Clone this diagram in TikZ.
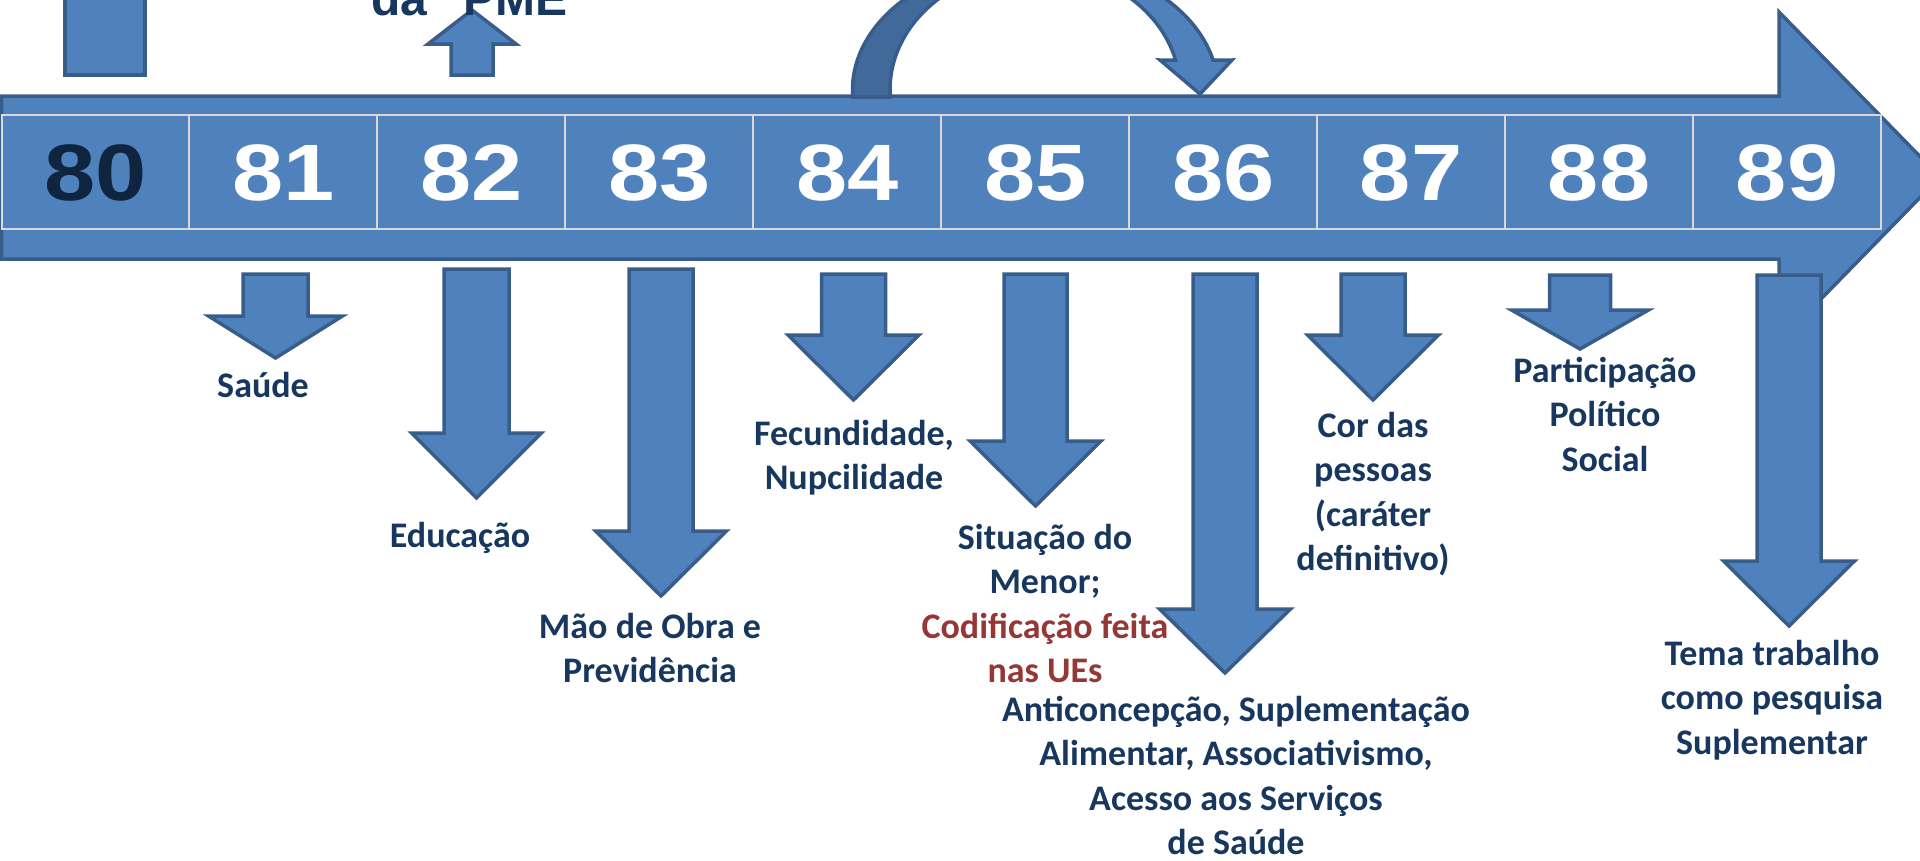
\documentclass[tikz,border=0pt]{standalone}
\usepackage{fontspec}
\setmainfont{Carlito}
\newfontfamily\numfont{Liberation Sans}
\newfontfamily\lblfont{Carlito}
\definecolor{ablue}{HTML}{4F81BD}
\definecolor{aline}{HTML}{385D8A}
\definecolor{adark}{HTML}{41699A}
\definecolor{cellline}{HTML}{D9D9D9}
\definecolor{navy}{HTML}{17375E}
\definecolor{deepnavy}{HTML}{0F243E}
\definecolor{dred}{HTML}{953735}
% block arrow pointing down: cx, shaft half width, top, wing y, wing half width, tip y
\newcommand\blockdown[6]{%
  \draw[shp] ({#1-#2},#3) -- ({#1+#2},#3) -- ({#1+#2},#4) -- ({#1+#5},#4) -- (#1,#6)
    -- ({#1-#5},#4) -- ({#1-#2},#4) -- cycle;}
\newcommand\mlines[1]{\begin{tabular}[t]{@{}c@{}}#1\end{tabular}}
\begin{document}
\begin{tikzpicture}[x=1pt,y=-1pt,
  shp/.style={fill=ablue, draw=aline, line width=3.5pt, line join=miter},
  lbl/.style={text=navy, font=\lblfont\bfseries\fontsize{36}{44.5}\selectfont, inner sep=0pt, anchor=base},
  num/.style={font=\numfont\bfseries\fontsize{80}{90}\selectfont, inner sep=0pt, anchor=base},
  cell/.style={draw=cellline, line width=2pt, fill=ablue}]
\useasboundingbox (0,0) rectangle (1920,860);
\clip (0,0) rectangle (1920,860);

% main timeline arrow
\draw[shp] (1.5,96) -- (1779,96) -- (1779,12) -- (1940,177) -- (1779,342) -- (1779,259) -- (1.5,259) -- cycle;

% year cells
\foreach \i/\n in {0/80,1/81,2/82,3/83,4/84,5/85,6/86,7/87,8/88,9/89} {
  \draw[cell] ({1.5+187.95*\i},115) rectangle ({1.5+187.95*(\i+1)},229);
}
\foreach \i/\n in {1/81,2/82,3/83,4/84,5/85,6/86,7/87,8/88,9/89} {
  \node[num, text=white] (y\n) at ({1.5+187.95*\i+93.97},200) {\scalebox{1.15}[1]{\n}};
}
\node[num, text=deepnavy] (y80) at (95.5,200) {\scalebox{1.15}[1]{80}};

% curved arrow over 84-86
\draw[shp, fill=adark] (852.5,97) -- (852.5,90) arc[start angle=180, end angle=270, x radius=183, y radius=130]
  -- (1035,-32) arc[start angle=270, end angle=180, x radius=145, y radius=122] -- (890,97) -- cycle;
\draw[shp] (1035,-40) arc[start angle=270, end angle=346.7, x radius=183, y radius=130]
  -- (1232,60) -- (1200,94) -- (1160,60) -- (1175.6,60.1)
  arc[start angle=345.8, end angle=270, x radius=145, y radius=122] -- cycle;

% top-left rectangle and up arrow
\draw[shp] (65,-10) rectangle (145,75);
\draw[shp] (451,75) -- (493,75) -- (493,44) -- (516,44) -- (472,10) -- (428,44) -- (451,44) -- cycle;
\node[anchor=base west, inner sep=0pt, text=navy, font=\numfont\bfseries\fontsize{48}{56}\selectfont] (pme) at (371,15) {da\hspace{36pt}PME};

% down arrows
\blockdown{275.5}{32.5}{274}{316}{67}{358}
\blockdown{476.5}{32.5}{269}{433}{65}{498}
\blockdown{661}{32}{269}{531}{65.5}{596}
\blockdown{853.5}{32}{274}{335}{65.5}{400}
\blockdown{1035.5}{31.5}{274}{441}{65.5}{506}
\blockdown{1225}{32}{274}{609}{65.5}{673}
\blockdown{1373}{32}{274}{335}{65.5}{400}
\blockdown{1580}{30.5}{275}{310}{68.5}{349}
\blockdown{1789}{32}{275}{561}{65.5}{626}

% labels
\node[lbl] (saude) at (263,397) {\mlines{Saúde}};
\node[lbl] (educ) at (460,547) {\mlines{Educação}};
\node[lbl] (mao) at (650,638) {\mlines{Mão de Obra e\\Previdência}};
\node[lbl] (fec) at (854,445) {\mlines{Fecundidade,\\Nupcilidade}};
\node[lbl] (sit) at (1045,549) {\mlines{Situação do\\Menor;\\\textcolor{dred}{Codificação feita}\\\textcolor{dred}{nas UEs}}};
\node[lbl] (anti) at (1236,721) {\mlines{Anticoncepção, Suplementação\\Alimentar, Associativismo,\\Acesso aos Serviços\\de Saúde}};
\node[lbl] (cor) at (1373,437) {\mlines{Cor das\\pessoas\\(caráter\\definitivo)}};
\node[lbl] (part) at (1605,382) {\mlines{Participação\\Político\\Social}};
\node[lbl] (tema) at (1772,665) {\mlines{Tema trabalho\\como pesquisa\\Suplementar}};
\end{tikzpicture}
\end{document}
